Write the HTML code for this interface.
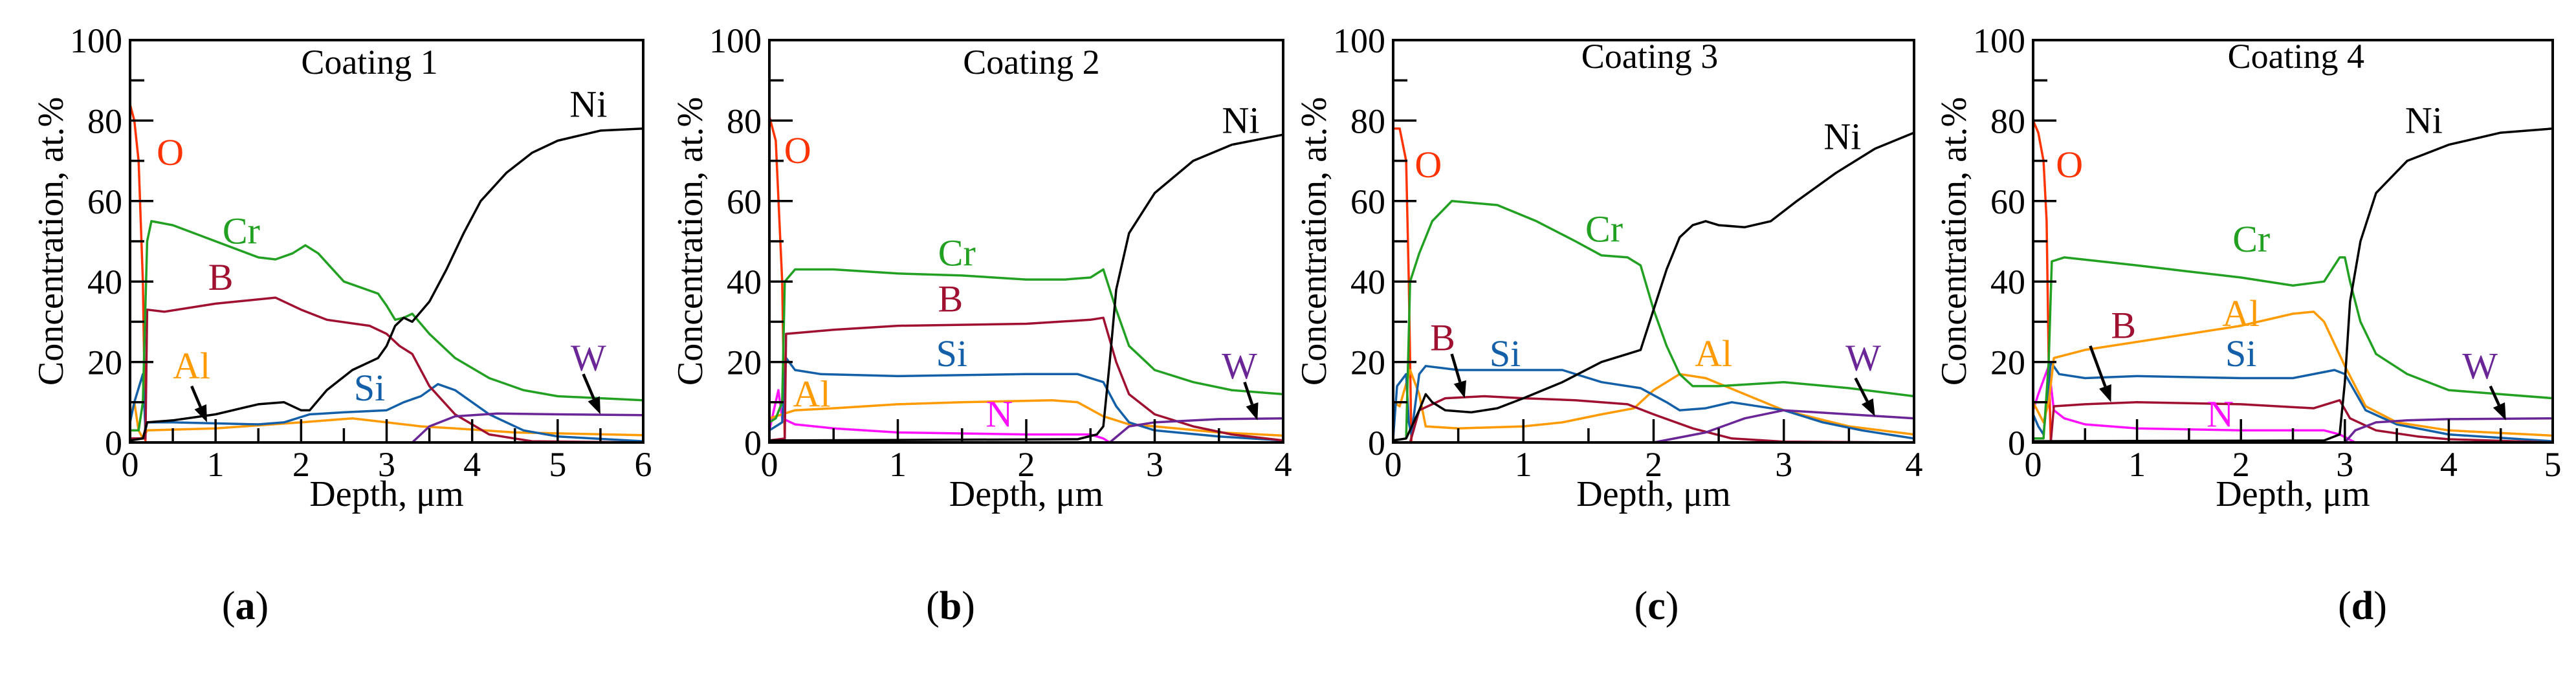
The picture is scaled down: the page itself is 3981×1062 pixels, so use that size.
<!DOCTYPE html>
<html><head><meta charset="utf-8">
<style>
html,body{margin:0;padding:0;background:#fff;}
svg, svg text{font-family:"Liberation Serif","DejaVu Serif",serif;}
svg{display:block;}
</style></head>
<body>
<svg id="fig" width="3981" height="1062" viewBox="0 0 3981 1062" xmlns="http://www.w3.org/2000/svg" font-family="Liberation Serif, DejaVu Serif, serif"></svg>
<script>
// ---- Panel geometry (not data) ----
const panelLefts = [201, 1189, 2153, 3142];
const panelRights = [994, 1983, 2958, 3945];
const plotTop = 62, plotBottom = 684;
const letterX = [379, 1469, 2560, 3651];

// ---- Data ----
const titles = ["Coating 1", "Coating 2", "Coating 3", "Coating 4"];
const letters = ["a", "b", "c", "d"];
const xMax = [6, 4, 4, 5];
const yTicks = [0, 20, 40, 60, 80, 100];
const colors = {O:"#ff3300", Cr:"#22a022", B:"#a01030", Si:"#1460a8", Al:"#ff9a00", N:"#ff10ff", W:"#6a2596", Ni:"#000000"};

// Panel a
const aO_x=[0,0.05,0.1,0.15,0.18]; const aO_y=[84,80,70,40,0];
const aNi_x=[0,0.15,0.2,0.5,1,1.5,1.8,2.0,2.1,2.3,2.6,2.9,3.0,3.1,3.2,3.3,3.5,3.7,3.9,4.1,4.4,4.7,5,5.5,6];
const aNi_y=[0.5,1,5,5.5,7,9.5,10,8,8,13,18,21,24,29,31,30,35,43,52,60,67,72,75,77.5,78];
const aCr_x=[0,0.1,0.15,0.2,0.25,0.5,1.0,1.5,1.7,1.9,2.05,2.2,2.5,2.9,3.0,3.1,3.2,3.3,3.5,3.8,4.2,4.6,5,6];
const aCr_y=[3,3,10,50,55,54,50,46,45.5,47,49,47,40,37,34,30.5,31,32,27,21,16,13,11.5,10.5];
const aB_x=[0,0.18,0.2,0.4,1,1.7,2.0,2.3,2.8,3.0,3.15,3.3,3.5,3.8,4.2,4.7,6];
const aB_y=[1,1,33,32.5,34.5,36,33,30.5,29,27,24,22,14,7,2,0.3,0];
const aSi_x=[0,0.05,0.15,0.18,0.2,0.5,1.5,1.8,2.1,2.5,3.0,3.2,3.4,3.6,3.8,4.2,4.6,5,6];
const aSi_y=[5,10,17,3,5,5,4.5,5,7,7.5,8,10,11.5,14.5,13,7,3,1.5,0.3];
const aAl_x=[0,0.05,0.1,0.15,0.2,1,2,2.6,3,3.4,3.8,4.5,6];
const aAl_y=[6,10,3,1,3,3.5,5,6,5,4,3.5,2.5,1.8];
const aW_x=[3.3,3.5,3.8,4.3,5,6]; const aW_y=[0,4,6.5,7.2,7,6.8];

// Panel b
const bO_x=[0,0.05,0.1,0.12]; const bO_y=[81,75,40,0];
const bNi_x=[0,2.4,2.55,2.6,2.65,2.7,2.8,3.0,3.3,3.6,4]; const bNi_y=[0.5,0.8,2,4,20,38,52,62,70,74,76.5];
const bCr_x=[0,0.05,0.1,0.12,0.2,0.5,1,1.5,2,2.3,2.5,2.6,2.7,2.8,3,3.3,3.6,4];
const bCr_y=[5,6,10,40,43,43,42,41.5,40.5,40.5,41,43,33,24,18,15,13,12];
const bB_x=[0,0.12,0.13,0.5,1,2,2.5,2.6,2.7,2.8,3,3.3,3.6,4]; const bB_y=[0.5,1,27,28,29,29.5,30.5,31,20,12,7,4,2,0.5];
const bSi_x=[0,0.1,0.13,0.2,0.4,1,2,2.4,2.6,2.7,2.8,3,3.5,4]; const bSi_y=[3,5,21,18,17,16.5,17,17,15,9,5,3,1.5,0.5];
const bAl_x=[0,0.1,0.2,0.5,1,1.5,2.2,2.4,2.6,2.8,3,3.5,4]; const bAl_y=[6,7,8,8.5,9.5,10,10.5,10,6.5,4.5,4,2.5,1.7];
const bN_x=[0,0.07,0.1,0.2,0.5,1,2,2.5,2.6,2.65]; const bN_y=[3,13,6,4.5,3.5,2.5,2,2,1,0];
const bW_x=[2.65,2.8,3,3.5,4]; const bW_y=[0,4,5,5.8,6];

// Panel c
const cO_x=[0,0.05,0.1,0.12,0.14]; const cO_y=[78,78,70,40,0];
const cNi_x=[0,0.1,0.2,0.25,0.3,0.4,0.6,0.8,1,1.3,1.6,1.8,1.9,2.0,2.1,2.2,2.3,2.4,2.5,2.7,2.9,3.1,3.4,3.7,4];
const cNi_y=[0.5,1,8,12,10,8,7.5,8.5,11,15,20,22,23,33,43,51,54,55,54,53.5,55,60,67,73,77];
const cCr_x=[0,0.1,0.13,0.2,0.3,0.45,0.8,1.1,1.4,1.6,1.8,1.9,2.0,2.1,2.2,2.3,2.5,3.0,3.5,4];
const cCr_y=[0.5,1,40,47,55,60,59,55,50,46.5,46,44,33,24,17,14,14,15,13.5,11.5];
const cB_x=[0.13,0.2,0.4,0.7,1.0,1.4,1.8,2.0,2.3,2.6,3,4]; const cB_y=[0,8,11,11.5,11,10.5,9.5,7,3.5,1,0.2,0];
const cSi_x=[0,0.03,0.1,0.12,0.14,0.2,0.25,0.5,1,1.3,1.6,1.9,2.1,2.2,2.4,2.6,3,3.3,3.6,4];
const cSi_y=[1,14,17,5,2,17,19,18,18,18,15,13.5,10,8,8.5,10,8,5,3,1];
const cAl_x=[0,0.05,0.13,0.2,0.25,0.5,1,1.3,1.6,1.85,2.0,2.2,2.4,2.7,3,3.5,4];
const cAl_y=[10,9,18,12,4,3.5,4,5,7,8.5,13,17,16,12,8,4,2];
const cW_x=[2,2.4,2.7,3,3.5,4]; const cW_y=[0,2.5,6,8,7,6];

// Panel d
const dO_x=[0,0.05,0.1,0.13,0.15,0.17]; const dO_y=[80,77,70,55,20,0];
const dNi_x=[0,2.8,2.95,3.0,3.05,3.15,3.3,3.6,4,4.5,5]; const dNi_y=[0.3,0.5,2,15,35,50,62,70,74,77,78];
const dCr_x=[0,0.1,0.15,0.18,0.3,1,1.5,2,2.5,2.8,2.95,3.0,3.05,3.15,3.3,3.6,4,4.5,5];
const dCr_y=[1,1,20,45,46,44,42.5,41,39,40,46,46,40,30,22,17,13,12,11];
const dAl_x=[0,0.1,0.15,0.2,0.5,1,1.5,2,2.5,2.7,2.8,3.0,3.2,3.5,4,5]; const dAl_y=[10,5,10,21,23,25,27,29,32,32.5,30,19,9,5,3,1.7];
const dSi_x=[0,0.05,0.1,0.17,0.25,0.5,1,2,2.5,2.9,3.0,3.2,3.5,4,5]; const dSi_y=[7,4,2,20,17,16,16.5,16,16,18,17,8,4.5,2,0.3];
const dB_x=[0,0.17,0.2,0.5,1,2,2.7,2.95,3.05,3.3,3.7,4,5]; const dB_y=[0,0,9,9.5,10,9.5,8.5,10.5,6,3,1.5,0.8,0];
const dN_x=[0,0.05,0.15,0.2,0.3,0.5,1,2,2.8,2.95,3.1]; const dN_y=[8,12,19,8,6,4.5,3.5,3,3,2,0];
const dW_x=[3,3.1,3.3,3.6,4,5]; const dW_y=[0,3,5,5.5,5.8,6];

const panels = [
  {series:[["O",aO_x,aO_y],["Al",aAl_x,aAl_y],["Si",aSi_x,aSi_y],["B",aB_x,aB_y],["Cr",aCr_x,aCr_y],["W",aW_x,aW_y],["Ni",aNi_x,aNi_y]],
   labels:[["O",0.47,72],["Cr",1.3,52.5],["B",1.06,41],["Al",0.72,19],["Si",2.8,13.5],["W",5.36,21],["Ni",5.36,84]],
   arrows:[[0.72,14,0.9,5],[5.3,17,5.5,7]], title:[2.8,94.5]},
  {series:[["O",bO_x,bO_y],["N",bN_x,bN_y],["Al",bAl_x,bAl_y],["Si",bSi_x,bSi_y],["B",bB_x,bB_y],["Cr",bCr_x,bCr_y],["W",bW_x,bW_y],["Ni",bNi_x,bNi_y]],
   labels:[["O",0.22,72.5],["Cr",1.46,47],["B",1.41,35.6],["Si",1.42,22],["Al",0.33,12],["N",1.79,7],["W",3.66,19],["Ni",3.67,80]],
   arrows:[[3.7,15,3.8,5.5]], title:[2.04,94.5]},
  {series:[["O",cO_x,cO_y],["Al",cAl_x,cAl_y],["Si",cSi_x,cSi_y],["B",cB_x,cB_y],["Cr",cCr_x,cCr_y],["W",cW_x,cW_y],["Ni",cNi_x,cNi_y]],
   labels:[["O",0.27,69],["Cr",1.62,53],["B",0.38,26],["Si",0.86,22],["Al",2.46,22],["W",3.61,21],["Ni",3.45,76]],
   arrows:[[0.45,22,0.55,11],[3.55,16,3.7,6.5]], title:[1.97,96]},
  {series:[["O",dO_x,dO_y],["N",dN_x,dN_y],["Si",dSi_x,dSi_y],["B",dB_x,dB_y],["Al",dAl_x,dAl_y],["Cr",dCr_x,dCr_y],["W",dW_x,dW_y],["Ni",dNi_x,dNi_y]],
   labels:[["O",0.35,69],["Cr",2.1,50.5],["Al",2.0,32],["B",0.87,29],["Si",2.0,22],["N",1.8,7],["W",4.3,19],["Ni",3.76,80]],
   arrows:[[0.55,24,0.75,10],[4.4,14,4.55,5.5]], title:[2.53,96]}
];

const NS="http://www.w3.org/2000/svg";
const FONT="Liberation Serif, DejaVu Serif, serif";
const svg=document.getElementById('fig');
function mk(tag, attrs, parent){const e=document.createElementNS(NS,tag);for(const k in attrs)e.setAttribute(k,attrs[k]);if(tag==='text')e.setAttribute('font-family',FONT);(parent||svg).appendChild(e);return e;}

panels.forEach((p,i)=>{
  const L=panelLefts[i], R=panelRights[i];
  const sx=v=>L+(v/xMax[i])*(R-L);
  const sy=v=>plotBottom-(v/100)*(plotBottom-plotTop);
  const g=mk('g',{});
  
  
  p.series.forEach(s=>{
    const [name,xs,ys]=s;
    const d=xs.map((x,k)=>(k?'L':'M')+sx(x).toFixed(1)+' '+sy(ys[k]).toFixed(1)).join(' ');
    const path=mk('path',{d:d,fill:'none',stroke:colors[name],'stroke-width':3.5,'stroke-linejoin':'round'},g);
    
    
  });
  const fr=mk('rect',{x:L,y:plotTop,width:R-L,height:plotBottom-plotTop,fill:'none',stroke:'#000','stroke-width':4},g);
  
  
  for(let v=0;v<=100;v+=10){
    const len=(v%20===0)?36:22;
    mk('line',{x1:L,x2:L+len,y1:sy(v),y2:sy(v),stroke:'#000','stroke-width':3.5},g);
  }
  yTicks.forEach(v=>{
    const t=mk('text',{x:L-12,y:sy(v)+19,'text-anchor':'end','font-size':54,fill:'#000'},g);
    t.textContent=v;
    
    
  });
  for(let v=0;v<=xMax[i]+1e-9;v+=0.5){
    const len=(Math.abs(v-Math.round(v))<1e-6)?36:22;
    mk('line',{x1:sx(v),x2:sx(v),y1:plotBottom,y2:plotBottom-len,stroke:'#000','stroke-width':3.5},g);
  }
  for(let v=0;v<=xMax[i];v++){
    const t=mk('text',{x:sx(v),y:736,'text-anchor':'middle','font-size':54,fill:'#000'},g);
    t.textContent=v;
    
    
  }
  const xt=mk('text',{x:(L+R)/2,y:782,'text-anchor':'middle','font-size':56,fill:'#000'},g);
  xt.textContent='Depth, \u03bcm';
  
  
  const yt=mk('text',{x:0,y:0,'text-anchor':'middle','font-size':56,fill:'#000',transform:`translate(${L-104},${(plotTop+plotBottom)/2}) rotate(-90)`},g);
  yt.textContent='Concentration, at.%';
  
  
  const tt=mk('text',{x:sx(p.title[0]),y:sy(p.title[1])+18,'text-anchor':'middle','font-size':54,fill:'#000'},g);
  tt.textContent=titles[i];
  
  
  p.labels.forEach(l=>{
    const t=mk('text',{x:sx(l[1]),y:sy(l[2])+19,'text-anchor':'middle','font-size':58,fill:colors[l[0]]},g);
    t.textContent=l[0];
    
    
  });
  p.arrows.forEach(a=>{
    const x1=sx(a[0]),y1=sy(a[1]),x2=sx(a[2]),y2=sy(a[3]);
    const ang=Math.atan2(y2-y1,x2-x1), hl=26, hw=10;
    const bx=x2-hl*Math.cos(ang), by=y2-hl*Math.sin(ang);
    mk('line',{x1:x1,y1:y1,x2:bx,y2:by,stroke:'#000','stroke-width':4.5},g);
    const px=-Math.sin(ang)*hw, py=Math.cos(ang)*hw;
    const hd=mk('polygon',{points:`${x2},${y2} ${bx+px},${by+py} ${bx-px},${by-py}`,fill:'#000'},g);
    
    
  });
  const pl=mk('text',{x:letterX[i],y:957,'text-anchor':'middle','font-size':62,fill:'#000'},g);
  
  
  const b=mk('tspan',{'font-weight':'bold'},pl);
  pl.insertBefore(document.createTextNode('('),b);
  b.textContent=letters[i];
  pl.appendChild(document.createTextNode(')'));
});
</script>
</body></html>
